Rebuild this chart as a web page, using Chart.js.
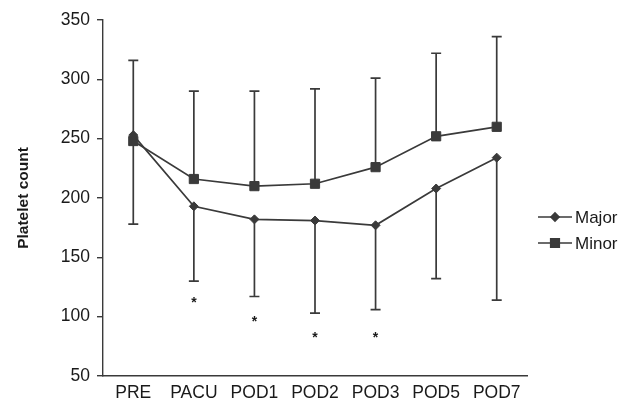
<!DOCTYPE html>
<html>
<head>
<meta charset="utf-8">
<script src="https://cdn.jsdelivr.net/npm/chart.js@4.4.1/dist/chart.umd.min.js"></script>
<style>
  html, body { margin: 0; padding: 0; background: #ffffff; }
  #wrap { width: 631px; height: 400px; }
</style>
</head>
<body>
<div id="wrap"><canvas id="c" width="631" height="400"></canvas></div>
<script>
const categories = ['PRE', 'PACU', 'POD1', 'POD2', 'POD3', 'POD5', 'POD7'];
const majorMean  = [253, 193, 182, 181, 177, 208, 234];
const majorLower = [178, 130, 117, 103, 106, 132, 114];
const minorMean  = [248, 216, 210, 212, 226, 252, 260];
const minorUpper = [316, 290, 290, 292, 301, 322, 336];
const asteriskAt = [null, 115, 99, 85, 85, null, null];
const yTicks = [50, 100, 150, 200, 250, 300, 350];

const INK = '#3a3a3a';
const TEXT = '#1a1a1a';
const FONT = '"Liberation Sans", Arial, sans-serif';

const errorBars = {
  id: 'errorBars',
  beforeDatasetsDraw(chart) {
    const { ctx, scales: { x, y } } = chart;
    ctx.save();
    ctx.strokeStyle = INK;
    ctx.lineWidth = 1.7;
    const cap = 5;
    const pairs = [[minorMean, minorUpper], [majorMean, majorLower]];
    pairs.forEach(([mean, end]) => {
      mean.forEach((m, i) => {
        const px = x.getPixelForValue(i);
        const y0 = y.getPixelForValue(m);
        const y1 = y.getPixelForValue(end[i]);
        ctx.beginPath();
        ctx.moveTo(px, y0); ctx.lineTo(px, y1);
        ctx.moveTo(px - cap, y1); ctx.lineTo(px + cap, y1);
        ctx.stroke();
      });
    });
    ctx.fillStyle = TEXT;
    ctx.font = 'bold 14px ' + FONT;
    ctx.textAlign = 'center';
    ctx.textBaseline = 'alphabetic';
    asteriskAt.forEach((v, i) => {
      if (v == null) return;
      ctx.fillText('*', x.getPixelForValue(i), y.getPixelForValue(v) + 8);
    });
    ctx.restore();
  }
};

const customLegend = {
  id: 'customLegend',
  afterDraw(chart) {
    const { ctx } = chart;
    ctx.save();
    const rows = [217, 243];
    chart.data.datasets.forEach((ds, i) => {
      const yy = rows[i];
      ctx.strokeStyle = INK;
      ctx.lineWidth = 1.7;
      ctx.beginPath();
      ctx.moveTo(538, yy); ctx.lineTo(572, yy);
      ctx.stroke();
      ctx.fillStyle = INK;
      Chart.helpers.drawPoint(ctx, {
        pointStyle: ds.pointStyle, radius: ds.pointRadius - 0.5, borderWidth: 1
      }, 555, yy);
      ctx.fillStyle = TEXT;
      ctx.font = '17px ' + FONT;
      ctx.textAlign = 'left';
      ctx.textBaseline = 'middle';
      ctx.fillText(ds.label, 575, yy + 1);
    });
    ctx.restore();
  }
};

new Chart(document.getElementById('c'), {
  type: 'line',
  data: {
    labels: categories,
    datasets: [
      {
        label: 'Major', data: majorMean,
        borderColor: INK, backgroundColor: INK, borderWidth: 1.7,
        pointStyle: 'rectRot', pointRadius: 4.5, pointBorderWidth: 1,
        tension: 0
      },
      {
        label: 'Minor', data: minorMean,
        borderColor: INK, backgroundColor: INK, borderWidth: 1.7,
        pointStyle: 'rect', pointRadius: 6.5, pointBorderWidth: 1,
        tension: 0
      }
    ]
  },
  options: {
    responsive: false,
    animation: false,
    events: [],
    layout: { padding: { top: 20, right: 104, left: 0, bottom: 0 } },
    plugins: { legend: { display: false }, tooltip: { enabled: false } },
    scales: {
      x: {
        offset: true,
        grid: { display: false, drawTicks: false },
        border: { display: true, color: INK, width: 1.4 },
        ticks: {
          color: TEXT, padding: 7, maxRotation: 0, autoSkip: false,
          font: { family: FONT, size: 17.5 }
        },
        afterFit(s) { s.height = 24; }
      },
      y: {
        min: 50, max: 350,
        afterBuildTicks(s) { s.ticks = yTicks.map(v => ({ value: v })); },
        grid: { drawOnChartArea: false, drawTicks: true, tickLength: 6, color: INK, lineWidth: 1.4 },
        border: { display: true, color: INK, width: 1.4 },
        ticks: {
          color: TEXT, padding: 7,
          font: { family: FONT, size: 17.5 }
        },
        title: {
          display: true, text: 'Platelet count', color: TEXT,
          padding: { top: 14, bottom: 0 },
          font: { family: FONT, size: 15.5, weight: 'bold' }
        },
        afterFit(s) { s.width = 103; }
      }
    }
  },
  plugins: [errorBars, customLegend]
});
</script>
</body>
</html>
